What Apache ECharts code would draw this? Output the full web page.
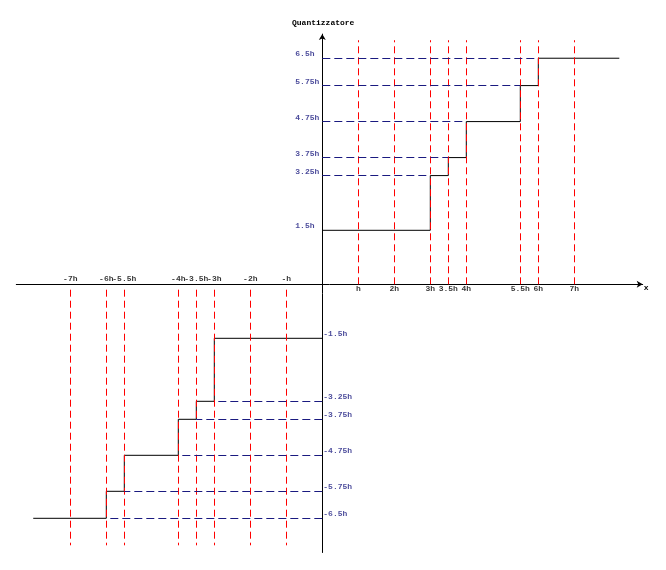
<!DOCTYPE html>
<html>
<head>
<meta charset="utf-8">
<script src="https://cdn.jsdelivr.net/npm/echarts@6/dist/echarts.min.js"></script>
<style>html,body{margin:0;padding:0;background:#fff;}#c{width:666px;height:570px;}</style>
</head>
<body>
<div id="c"></div>
<script>
// ---- data (in units of h) ----
const xPosTicks = [1, 2, 3, 3.5, 4, 5.5, 6, 7];
const xPosLabels = ['h', '2h', '3h', '3.5h', '4h', '5.5h', '6h', '7h'];
const xNegTicks = [-7, -6, -5.5, -4, -3.5, -3, -2, -1];
const xNegLabels = ['-7h', '-6h', '-5.5h', '-4h', '-3.5h', '-3h', '-2h', '-h'];

const posLevels = [1.5, 3.02, 3.52, 4.52, 5.52, 6.28];
const posLevelLabels = ['1.5h', '3.25h', '3.75h', '4.75h', '5.75h', '6.5h'];
const posSteps = [3, 3.5, 4, 5.5, 6];
const posEnd = 8.25;

const negLevels = [-1.5, -3.25, -3.75, -4.75, -5.75, -6.5];
const negLevelLabels = ['-1.5h', '-3.25h', '-3.75h', '-4.75h', '-5.75h', '-6.5h'];
const negSteps = [-3, -3.5, -4, -5.5, -6];
const negEnd = -8.03;

const posGuideRange = [0, 6.78];
const negGuideRange = [-0.15, -7.25];

// ---- build ----
const FONT = 'Liberation Mono';
const NAVY = '#1a1a80';

const posStepData = [[0, posLevels[0]]].concat(posSteps.map((x, i) => [x, posLevels[i + 1]])).concat([[posEnd, posLevels[posLevels.length - 1]]]);
const negStepData = [[0, negLevels[0]]].concat(negSteps.map((x, i) => [x, negLevels[i + 1]])).concat([[negEnd, negLevels[negLevels.length - 1]]]);

const blueLines = [];
posSteps.forEach((x, i) => blueLines.push([{coord: [0, posLevels[i + 1]]}, {coord: [x, posLevels[i + 1]]}]));
negSteps.forEach((x, i) => blueLines.push([{coord: [0, negLevels[i + 1]]}, {coord: [x, negLevels[i + 1]]}]));

const redLines = [];
xPosTicks.forEach(x => redLines.push([{coord: [x, posGuideRange[0]]}, {coord: [x, posGuideRange[1]]}]));
xNegTicks.forEach(x => redLines.push([{coord: [x, negGuideRange[0]]}, {coord: [x, negGuideRange[1]]}]));

function labelSeries(data, labelOpt) {
  return {
    type: 'scatter', symbolSize: 0.01, silent: true, animation: false,
    itemStyle: {color: 'rgba(0,0,0,0)'},
    data: data,
    label: Object.assign({
      show: true, fontFamily: FONT, fontSize: 8, lineHeight: 9, fontWeight: 'bold',
      formatter: p => p.data[2]
    }, labelOpt),
    z: 5
  };
}

const chart = echarts.init(document.getElementById('c'), null, {renderer: 'canvas'});
chart.setOption({
  backgroundColor: '#ffffff',
  animation: false,
  title: {
    text: 'Quantizzatore', left: 287, top: 13,
    textStyle: {fontFamily: FONT, fontSize: 8, fontWeight: 'bold', color: '#000', lineHeight: 9}
  },
  grid: {left: 16.3, right: 23.3, top: 34.1, bottom: 17.5, containLabel: false},
  xAxis: {
    type: 'value', min: -8.5, max: 8.9,
    name: 'x', nameLocation: 'end', nameGap: 1,
    nameTextStyle: {fontFamily: FONT, fontSize: 8, fontWeight: 'bold', color: '#000', verticalAlign: 'top', align: 'left'},
    axisLine: {show: true, onZero: true, symbol: ['none', 'arrow'], symbolSize: [5.25, 6], lineStyle: {color: '#000', width: 1}},
    axisTick: {show: false}, axisLabel: {show: false}, splitLine: {show: false}
  },
  yAxis: {
    type: 'value', min: -7.45, max: 6.95,
    axisLine: {show: true, onZero: true, symbol: ['none', 'arrow'], symbolSize: [5.25, 6], lineStyle: {color: '#000', width: 1}},
    axisTick: {show: false}, axisLabel: {show: false}, splitLine: {show: false}
  },
  series: [
    {
      type: 'line', data: [], silent: true,
      markLine: {
        silent: true, symbol: ['none', 'none'], label: {show: false},
        lineStyle: {color: '#ff0000', width: 1, type: [7, 4]},
        data: redLines
      },
      z: 1
    },
    {
      type: 'line', data: [], silent: true,
      markLine: {
        silent: true, symbol: ['none', 'none'], label: {show: false},
        lineStyle: {color: NAVY, width: 1, type: [8, 4]},
        data: blueLines
      },
      z: 2
    },
    {type: 'line', step: 'end', data: posStepData, showSymbol: false, silent: true, lineStyle: {color: '#000', width: 1}, z: 3},
    {type: 'line', step: 'end', data: negStepData, showSymbol: false, silent: true, lineStyle: {color: '#000', width: 1}, z: 3},
    labelSeries(xPosTicks.map((x, i) => [x, 0, xPosLabels[i]]), {position: [0, 0.5], align: 'center', verticalAlign: 'top', color: '#000'}),
    labelSeries(xNegTicks.map((x, i) => [x, 0, xNegLabels[i]]), {position: [0, -0.5], align: 'center', verticalAlign: 'bottom', color: '#000'}),
    labelSeries(posLevels.map((y, i) => [0, y, posLevelLabels[i]]), {position: [-27, -4], align: 'left', verticalAlign: 'middle', color: NAVY}),
    labelSeries(negLevels.map((y, i) => [0, y, negLevelLabels[i]]), {position: [1, -4.5], align: 'left', verticalAlign: 'middle', color: NAVY})
  ]
});
</script>
</body>
</html>
